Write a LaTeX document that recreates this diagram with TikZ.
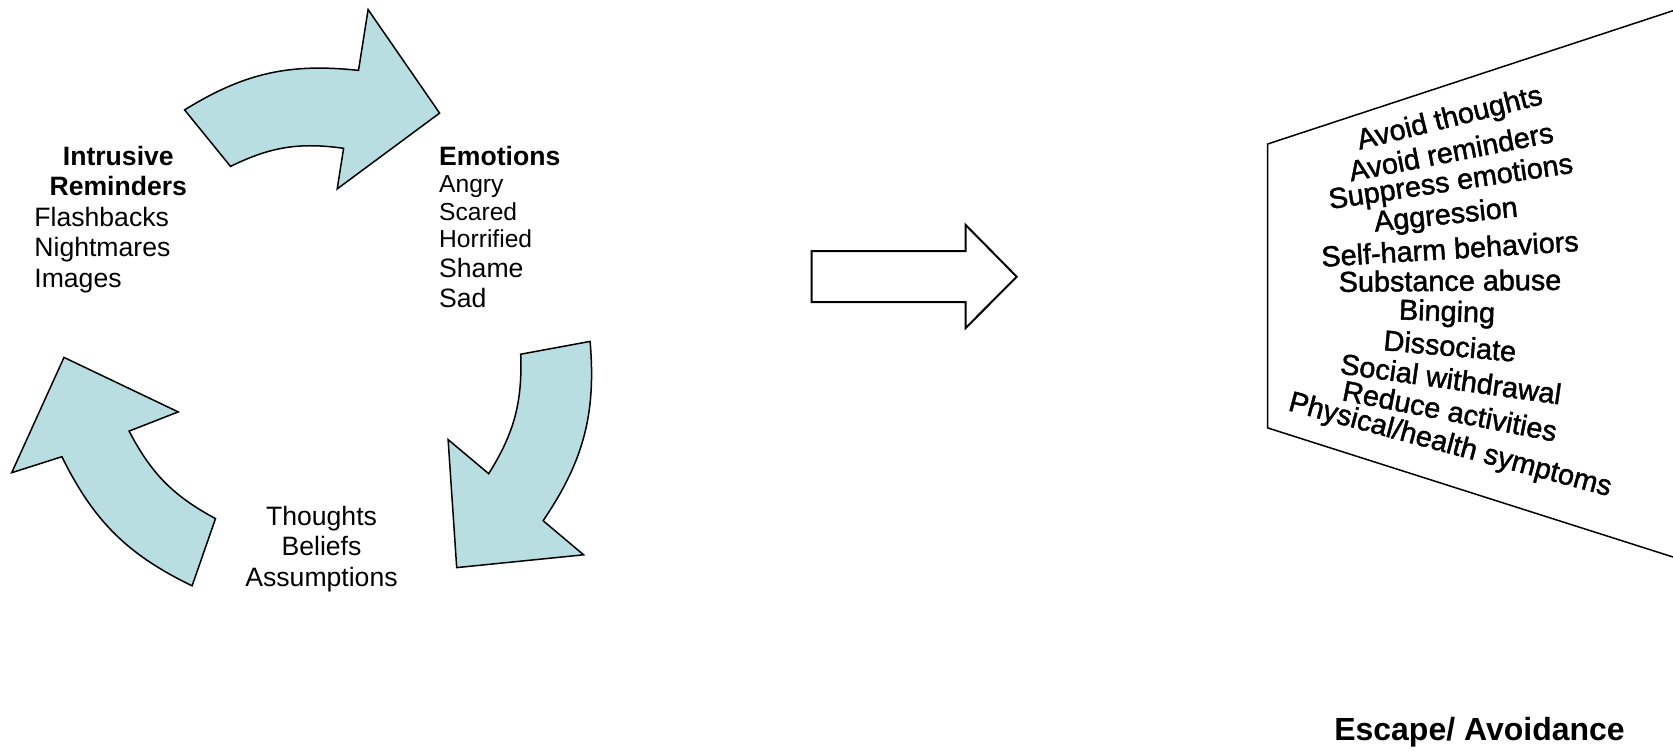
\documentclass[tikz,border=0pt]{standalone}
\usepackage{fontspec}
\setmainfont{Liberation Sans}
\newfontfamily\wafont[FakeBold=1.5]{Liberation Sans}
\definecolor{cycfill}{RGB}{185,222,226}
\begin{document}
\begin{tikzpicture}[x=0.5pt,y=0.5pt,
  cycarrow/.style={fill=cycfill,draw=black,line width=0.75pt,line join=miter},
  blockarrow/.style={fill=white,draw=black,line width=1pt,line join=miter},
  panel/.style={draw=black,line width=0.75pt},
  txt/.style={inner sep=0pt,font=\fontsize{13.3}{15}\selectfont},
  txtb/.style={inner sep=0pt,font=\bfseries\fontsize{13.3}{15}\selectfont},
  txts/.style={inner sep=0pt,font=\fontsize{12.3}{14}\selectfont},
  wa/.style={inner sep=0pt,font=\wafont\fontsize{14.4}{16}\selectfont},
  title/.style={inner sep=0pt,font=\bfseries\fontsize{16}{18}\selectfont}]
\useasboundingbox (0,0) rectangle (1673,-750);
\clip (0,0) rectangle (1673,-750);

% cycle arrows
\draw[cycarrow] (184.6,-109.9) to[bend left=19] (358.5,-70.4) -- (368.1,-9.6) -- (439.6,-113.1)
  -- (337.2,-188.9) -- (343.6,-148.3) to[bend right=17] (230.5,-166.4) -- cycle;
\draw[cycarrow] (590.1,-341.4) to[bend left=19.5] (543.1,-520.7) -- (583.6,-554.8) -- (456.7,-567.6)
  -- (448.1,-439.6) -- (488.7,-473.7) to[bend right=17] (520.7,-354.2) -- cycle;
\draw[cycarrow] (192.1,-585.8) to[bend left=19] (61.9,-456.7) -- (11.7,-472.7) -- (64,-357.4)
  -- (178.2,-411.9) -- (129.1,-431.1) to[bend right=17] (215.5,-518.6) -- cycle;

% texts of the cycle
\node[txtb,anchor=base] (ir1) at (118.3,-165) {Intrusive};
\node[txtb,anchor=base] (ir2) at (118.3,-195.5) {Reminders};
\node[txt,anchor=base west] (ir3) at (34,-226) {Flashbacks};
\node[txt,anchor=base west] (ir4) at (34,-256.5) {Nightmares};
\node[txt,anchor=base west] (ir5) at (34,-287) {Images};

\node[txtb,anchor=base west] (em1) at (438.8,-165) {Emotions};
\node[txts,anchor=base west] (em2) at (438.8,-192.7) {Angry};
\node[txts,anchor=base west] (em3) at (438.8,-220) {Scared};
\node[txts,anchor=base west] (em4) at (438.8,-247.3) {Horrified};
\node[txt,anchor=base west] (em5) at (438.8,-277.3) {Shame};
\node[txt,anchor=base west] (em6) at (438.8,-307.3) {Sad};

\node[txt,anchor=base] (th1) at (321.5,-525) {Thoughts};
\node[txt,anchor=base] (th2) at (321.5,-555.5) {Beliefs};
\node[txt,anchor=base] (th3) at (321.5,-586) {Assumptions};

% block arrow
\draw[blockarrow] (811.7,-251) -- (965.7,-251) -- (965.7,-225) -- (1016.7,-276.7)
  -- (965.7,-328) -- (965.7,-302) -- (811.7,-302) -- cycle;

% panel
\draw[panel] (1673,-10.7) -- (1267.6,-144) -- (1267.6,-427.9) -- (1673,-557);

\node[wa,rotate=14] (av1) at (1450,-119.5) {Avoid thoughts};
\node[wa,rotate=11] (av2) at (1451,-151.5) {Avoid reminders};
\node[wa,rotate=8.5] (av3) at (1451,-183.5) {Suppress emotions};
\node[wa,rotate=6] (av4) at (1446,-216.6) {Aggression};
\node[wa,rotate=3.5] (av5) at (1450,-248.6) {Self-harm behaviors};
\node[wa,rotate=0.5] (av6) at (1450,-280.6) {Substance abuse};
\node[wa,rotate=-2] (av7) at (1447,-313.7) {Binging};
\node[wa,rotate=-5] (av8) at (1450,-345.7) {Dissociate};
\node[wa,rotate=-8] (av9) at (1451,-378.8) {Social withdrawal};
\node[wa,rotate=-11] (av10) at (1450,-410.8) {Reduce activities};
\node[wa,rotate=-15] (av11) at (1450,-446) {Physical/health symptoms};

\node[title,anchor=base] (esc) at (1479.5,-740) {Escape/ Avoidance};
\end{tikzpicture}
\end{document}
